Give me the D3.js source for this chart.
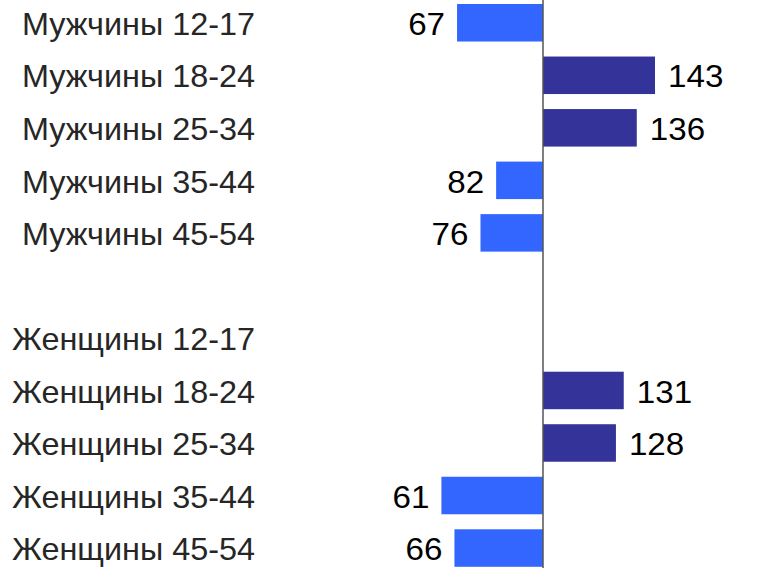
<!DOCTYPE html>
<html>
<head>
<meta charset="utf-8">
<script src="https://cdn.jsdelivr.net/npm/d3@7"></script>
<style>
  html, body { margin: 0; padding: 0; background: #fff; }
  svg { display: block; }
</style>
</head>
<body>
<svg id="chart" width="781" height="568"></svg>
<script>
// Data
const categories = [
  "Мужчины 12-17", "Мужчины 18-24", "Мужчины 25-34", "Мужчины 35-44", "Мужчины 45-54",
  "",
  "Женщины 12-17", "Женщины 18-24", "Женщины 25-34", "Женщины 35-44", "Женщины 45-54"
];
const values = [67, 143, 136, 82, 76, null, null, 131, 128, 61, 66];
const baseline = 100;

const W = 781, H = 568;
const svg = d3.select("#chart");

const rows = categories.map((c, i) => ({ key: "r" + i, label: c, value: values[i] }));

const y = d3.scaleBand()
  .domain(rows.map(d => d.key))
  .range([-3.5, 574.3])
  .paddingInner(0.286)
  .paddingOuter(0.143);

const x = d3.scaleLinear()
  .domain([baseline, 143])
  .range([543, 655]);

const font = "'Liberation Sans', Arial, sans-serif";
const catStretch = 1.045;
const valStretch = 1.07;

// Category labels
svg.append("g").selectAll("text")
  .data(rows.filter(d => d.label))
  .join("text")
  .attr("transform", d => `translate(255,${y(d.key) + y.bandwidth() / 2 + 1}) scale(${catStretch},1)`)
  .attr("dy", "0.36em")
  .attr("text-anchor", "end")
  .attr("font-family", font)
  .attr("font-size", 31)
  .attr("fill", "#262626")
  .text(d => d.label);

const withVal = rows.filter(d => d.value != null);

// Bars
svg.append("g").selectAll("rect")
  .data(withVal)
  .join("rect")
  .attr("x", d => Math.min(x(d.value), x(baseline)))
  .attr("y", d => y(d.key))
  .attr("width", d => Math.abs(x(d.value) - x(baseline)))
  .attr("height", y.bandwidth())
  .attr("fill", d => d.value >= baseline ? "#333399" : "#3366ff");

// Value labels
svg.append("g").selectAll("text")
  .data(withVal)
  .join("text")
  .attr("transform", d => {
    const tx = d.value >= baseline ? x(d.value) + 13 : x(d.value) - 12;
    return `translate(${tx},${y(d.key) + y.bandwidth() / 2 + 1}) scale(${valStretch},1)`;
  })
  .attr("dy", "0.36em")
  .attr("text-anchor", d => d.value >= baseline ? "start" : "end")
  .attr("font-family", font)
  .attr("font-size", 31)
  .attr("fill", "#000")
  .text(d => d.value);

// Baseline axis
svg.append("line")
  .attr("x1", x(baseline)).attr("x2", x(baseline))
  .attr("y1", 0).attr("y2", H)
  .attr("stroke", "#555")
  .attr("stroke-width", 1.5);
</script>
</body>
</html>
